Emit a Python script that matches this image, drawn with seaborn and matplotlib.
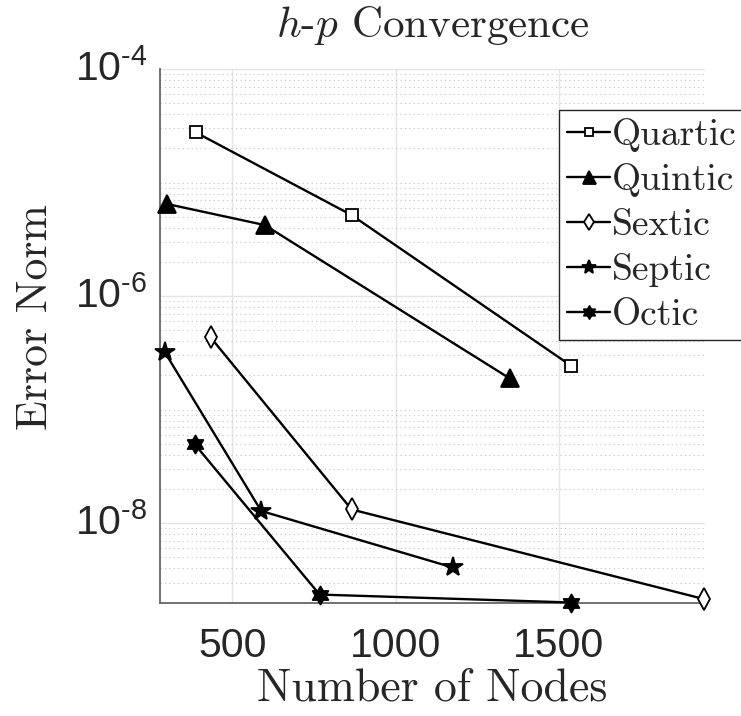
import numpy as np
import pandas as pd
import matplotlib
matplotlib.use("Agg")
import matplotlib.pyplot as plt
from matplotlib.path import Path
from matplotlib.font_manager import FontProperties
from matplotlib.ticker import FixedLocator, FixedFormatter, LogLocator, NullFormatter, NullLocator
import seaborn as sns

# Error norm against number of nodes for each polynomial order
quartic_nodes = [387, 865, 1538]
quartic_err = [2.77e-5, 5.17e-6, 2.43e-7]
quintic_nodes = [300, 599, 1350]
quintic_err = [6.47e-6, 4.22e-6, 1.88e-7]
sextic_nodes = [433, 865, 1946]
sextic_err = [4.33e-7, 1.32e-8, 2.14e-9]
septic_nodes = [292, 588, 1175]
septic_err = [3.23e-7, 1.28e-8, 4.07e-9]
octic_nodes = [385, 767, 1538]
octic_err = [4.93e-8, 2.35e-9, 2.0e-9]

series_names = ["Quartic", "Quintic", "Sextic", "Septic", "Octic"]
x_ticks = [500, 1000, 1500]
y_ticks = [1e-8, 1e-6, 1e-4]
y_tick_labels = [r"$10^{\text{-}8}$", r"$10^{\text{-}6}$", r"$10^{\text{-}4}$"]

sns.set_style("white")
plt.rcParams["font.family"] = ["Liberation Sans", "DejaVu Sans"]
plt.rcParams["mathtext.fontset"] = "custom"
plt.rcParams["mathtext.rm"] = "Liberation Sans"
plt.rcParams["mathtext.it"] = "Liberation Sans:italic"
plt.rcParams["mathtext.bf"] = "Liberation Sans:bold"

# six-pointed star (hexagram)
ang = np.deg2rad(90 + 30 * np.arange(12))
rad = np.where(np.arange(12) % 2 == 0, 1.0, 1 / np.sqrt(3))
hex_verts = np.column_stack([rad * np.cos(ang), rad * np.sin(ang)])
hex_verts = np.vstack([hex_verts, hex_verts[:1]])
hexagram = Path(hex_verts, closed=True)

fig = plt.figure(figsize=(7.41, 7.16), dpi=100)
ax = fig.add_axes([160 / 741, 1 - 603 / 716, 545 / 741, 534 / 716])
ax.set_yscale("log")

styles = [
    (quartic_nodes, quartic_err, "s", 8.5, "white"),
    (quintic_nodes, quintic_err, "^", 13.0, "black"),
    (sextic_nodes, sextic_err, "d", 11.0, "white"),
    (septic_nodes, septic_err, "*", 15.0, "black"),
    (octic_nodes, octic_err, hexagram, 13.0, "black"),
]
for name, (xs, ys, mk, ms, fc) in zip(series_names, styles):
    df = pd.DataFrame({"nodes": xs, "err": ys})
    sns.lineplot(data=df, x="nodes", y="err", ax=ax, estimator=None, sort=False,
                 color="black", linewidth=1.7, marker=mk, markersize=ms,
                 markerfacecolor=fc, markeredgecolor="black", markeredgewidth=1.3,
                 label=name, clip_on=False, zorder=3)

ax.set_xlim(278, 1948)
ax.set_ylim(1.98e-9, 1e-4)

ax.xaxis.set_major_locator(FixedLocator(x_ticks))
ax.xaxis.set_minor_locator(NullLocator())
ax.yaxis.set_major_locator(FixedLocator(y_ticks))
ax.yaxis.set_major_formatter(FixedFormatter(y_tick_labels))
ax.yaxis.set_minor_locator(LogLocator(base=10, subs=np.arange(1, 10), numticks=50))
ax.yaxis.set_minor_formatter(NullFormatter())

ax.set_axisbelow(True)
ax.grid(which="major", axis="both", color="#e4e4e4", linewidth=1.0, linestyle="-")
ax.grid(which="minor", axis="y", color="#c4c4c4", linewidth=0.8, linestyle=(0, (1, 3)))

for side in ["top", "right"]:
    ax.spines[side].set_visible(False)
for side in ["left", "bottom"]:
    ax.spines[side].set_color("#666666")
    ax.spines[side].set_linewidth(1.3)

ax.tick_params(axis="both", which="both", direction="in", color="#666666",
               labelcolor="#262626", labelsize=29.5)
ax.tick_params(axis="both", which="major", length=6, width=1.0)
ax.tick_params(axis="y", which="minor", length=3.5, width=0.8)
ax.tick_params(axis="x", which="major", pad=17)
ax.tick_params(axis="y", which="major", pad=9)
for lab in ax.get_yticklabels():
    lab.set_verticalalignment("center")

ax.set_title(r"$h$-$p$ Convergence", fontfamily="cmr10", math_fontfamily="cm",
             fontsize=31, pad=23)
ax.set_xlabel("Number of Nodes", fontfamily="cmr10", fontsize=33, labelpad=2)
ax.set_ylabel("Error Norm", fontfamily="cmr10", fontsize=31.5)
ax.yaxis.set_label_coords(-0.192, 0.535)

leg = ax.legend(loc="upper left", bbox_to_anchor=(559 / 741, 1 - 110 / 716),
                bbox_transform=fig.transFigure, borderaxespad=0,
                prop=FontProperties(family="cmr10", size=27),
                handlelength=1.15, handletextpad=0.05, labelspacing=0.30,
                borderpad=0.22, markerscale=0.72, fancybox=False, framealpha=1)
leg.get_frame().set_edgecolor("#262626")
leg.get_frame().set_linewidth(1.0)

fig.savefig("out.png", dpi=100)
